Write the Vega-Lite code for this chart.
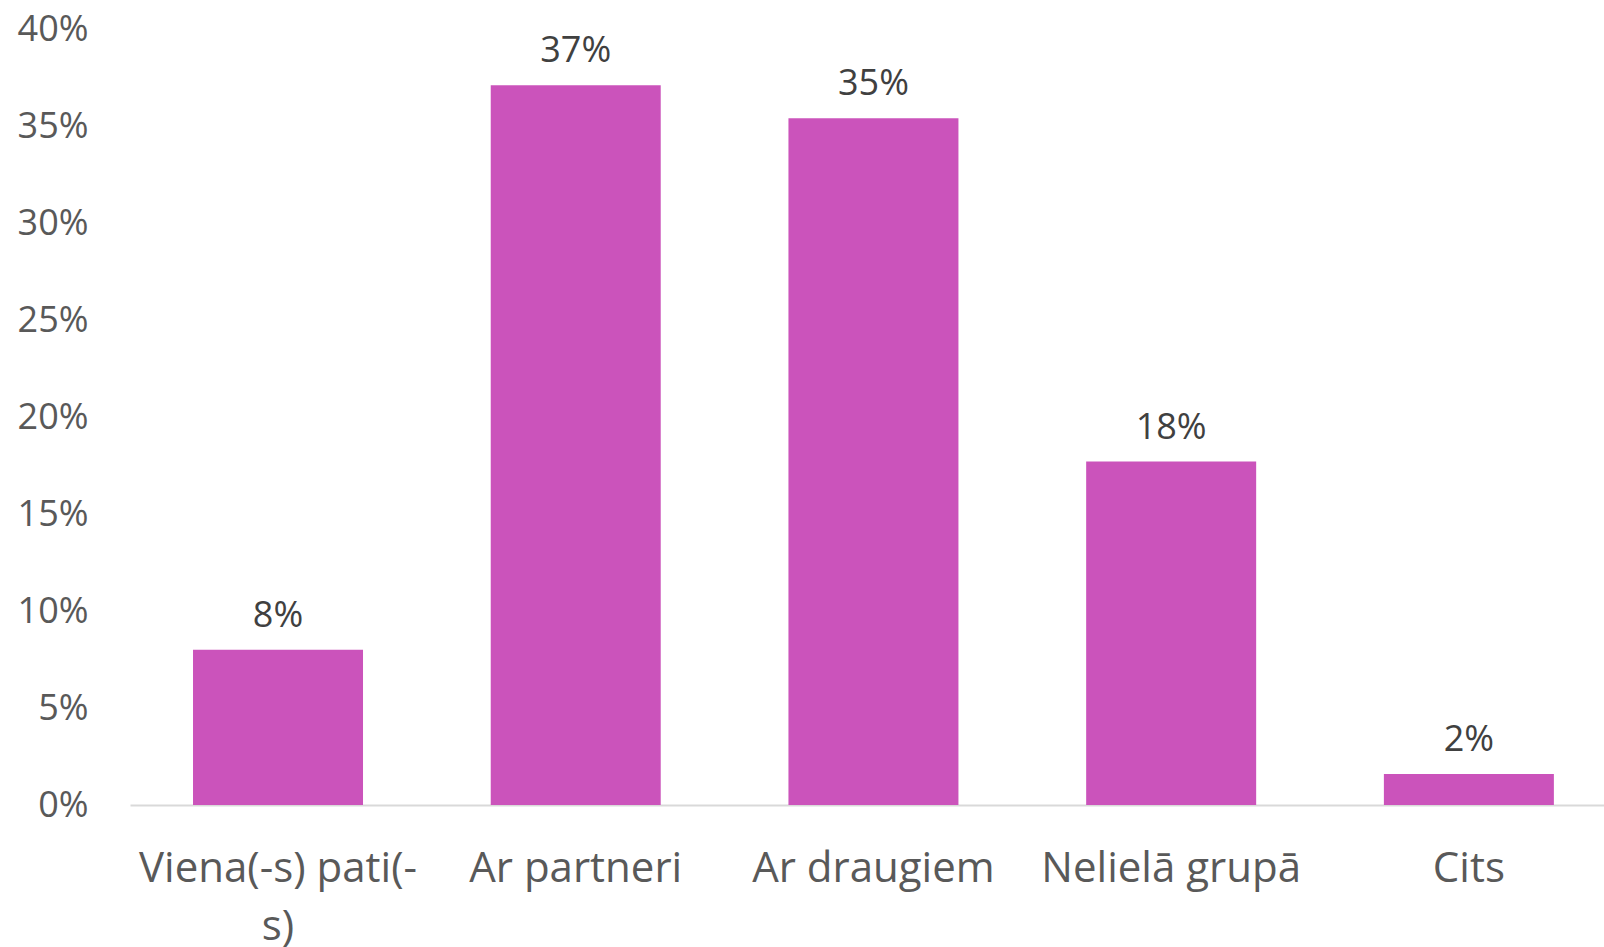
{
  "$schema": "https://vega.github.io/schema/vega-lite/v6.json",
  "width": 1474,
  "height": 776,
  "autosize": {"type": "none"},
  "padding": {"left": 130, "top": 29, "right": 0, "bottom": 142},
  "background": "white",
  "config": {"view": {"stroke": null}, "font": "Open Sans"},
  "data": {"values": [
    {"category": "Viena(-s) pati(-s)", "value": 0.080},
    {"category": "Ar partneri", "value": 0.371},
    {"category": "Ar draugiem", "value": 0.354},
    {"category": "Nelielā grupā", "value": 0.177},
    {"category": "Cits", "value": 0.016}
  ]},
  "encoding": {
    "x": {
      "field": "category", "type": "nominal", "sort": null,
      "scale": {"paddingInner": 0.429, "paddingOuter": 0.19, "align": 0.557},
      "axis": {
        "title": null, "labelAngle": 0, "ticks": false,
        "domainColor": "#d9d9d9", "domainWidth": 2,
        "labelFont": "Open Sans", "labelFontSize": 42, "labelColor": "#595959",
        "labelPadding": 43, "labelLineHeight": 58, "labelLimit": 0,
        "labelExpr": "datum.value == 'Viena(-s) pati(-s)' ? ['Viena(-s) pati(-', 's)'] : datum.label"
      }
    },
    "y": {
      "field": "value", "type": "quantitative",
      "scale": {"domain": [0, 0.4], "nice": false},
      "axis": {
        "title": null, "values": [0, 0.05, 0.1, 0.15, 0.2, 0.25, 0.3, 0.35, 0.4],
        "format": ".0%", "grid": false, "domain": false, "ticks": false,
        "labelFont": "Open Sans", "labelFontSize": 36, "labelColor": "#595959",
        "labelPadding": 42
      }
    }
  },
  "layer": [
    {"mark": {"type": "bar", "color": "#cb53bb"}},
    {
      "mark": {"type": "text", "baseline": "alphabetic", "dy": -23, "font": "Open Sans", "fontSize": 36, "color": "#404040"},
      "encoding": {"text": {"field": "value", "type": "quantitative", "format": ".0%"}}
    }
  ]
}
